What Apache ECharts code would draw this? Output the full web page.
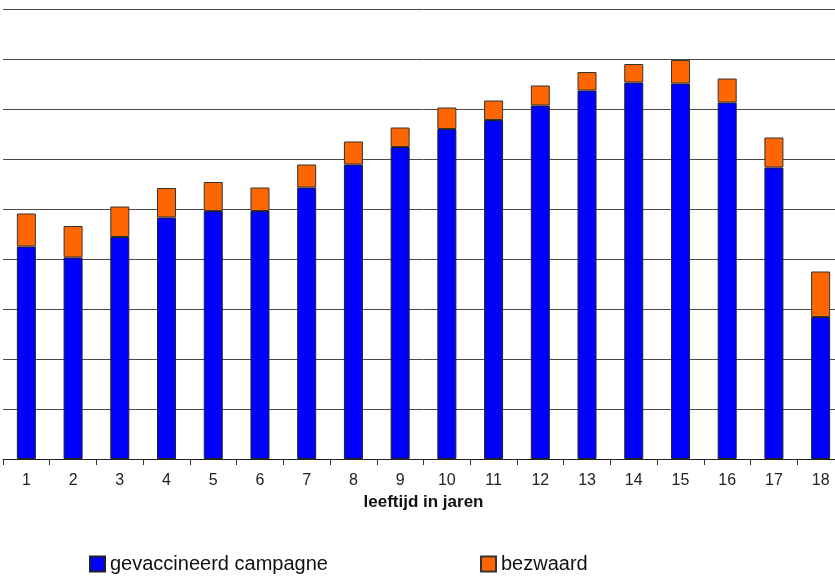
<!DOCTYPE html>
<html>
<head>
<meta charset="utf-8">
<script src="https://cdn.jsdelivr.net/npm/echarts@6/dist/echarts.min.js"></script>
<style>
html, body { margin: 0; padding: 0; overflow: hidden; background: #fff; }
#chart { width: 844px; height: 578px; }
</style>
</head>
<body>
<div id="chart"></div>
<script>
var categories = ['1','2','3','4','5','6','7','8','9','10','11','12','13','14','15','16','17','18'];
var gevaccineerd = [42.5, 40.3, 44.4, 48.3, 49.6, 49.6, 54.3, 58.9, 62.4, 66.0, 67.8, 70.7, 73.7, 75.3, 75.1, 71.3, 58.3, 28.4];
var bezwaard = [6.6, 6.3, 6.1, 5.9, 5.8, 4.7, 4.6, 4.6, 3.9, 4.3, 3.9, 4.0, 3.7, 3.7, 4.7, 4.8, 6.0, 9.1];
var xAxisName = 'leeftijd in jaren';
var seriesNames = ['gevaccineerd campagne', 'bezwaard'];

var chart = echarts.init(document.getElementById('chart'), null, { renderer: 'canvas' });
var font = 'Liberation Sans, Arial, sans-serif';
var legendText = { fontFamily: font, fontSize: 20, color: '#111', lineHeight: 20 };
chart.setOption({
  animation: false,
  backgroundColor: '#ffffff',
  grid: { left: 3, right: 0, top: 9, bottom: 119, containLabel: false },
  legend: [
    { data: [seriesNames[0]], left: 89, top: 554, padding: 0, icon: 'rect', itemWidth: 15, itemHeight: 15, itemGap: 0,
      textStyle: legendText },
    { data: [seriesNames[1]], left: 480, top: 554, padding: 0, icon: 'rect', itemWidth: 15, itemHeight: 15, itemGap: 0,
      textStyle: legendText }
  ],
  xAxis: {
    type: 'category',
    data: categories,
    boundaryGap: true,
    name: xAxisName,
    nameLocation: 'middle',
    nameGap: 33,
    nameTextStyle: { fontFamily: font, fontSize: 17, fontWeight: 'bold', color: '#111' },
    axisLine: { lineStyle: { color: '#222', width: 1 } },
    axisTick: { show: true, length: 6, lineStyle: { color: '#333' } },
    axisLabel: { fontFamily: font, fontSize: 16, color: '#222', margin: 14, interval: 0 }
  },
  yAxis: {
    type: 'value',
    min: 0, max: 90, interval: 10,
    axisLabel: { show: false },
    axisLine: { show: false },
    axisTick: { show: false },
    splitLine: { show: true, lineStyle: { color: '#4a4a4a', width: 1 } }
  },
  series: [
    { name: seriesNames[0], type: 'bar', stack: 'tot', data: gevaccineerd, barWidth: 19,
      itemStyle: { color: '#0000ff', borderColor: '#222', borderWidth: 1 } },
    { name: seriesNames[1], type: 'bar', stack: 'tot', data: bezwaard, barWidth: 19,
      itemStyle: { color: '#ff6600', borderColor: '#333', borderWidth: 1 } }
  ]
});
</script>
</body>
</html>
